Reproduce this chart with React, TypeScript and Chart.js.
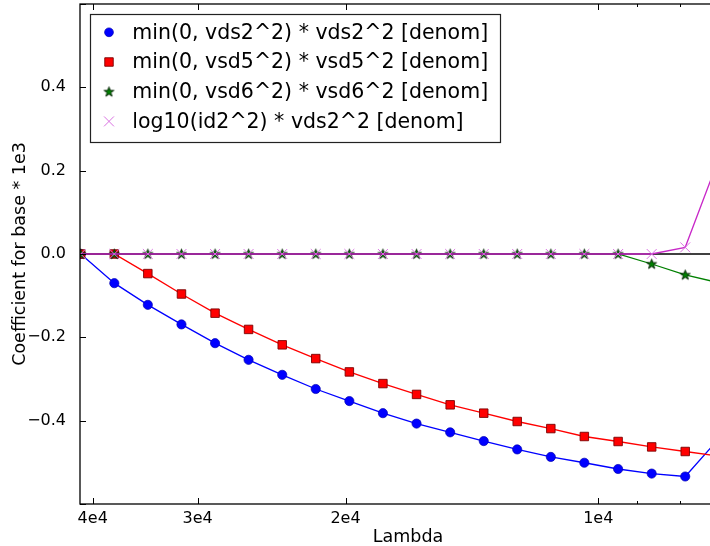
import React, { useEffect, useRef } from 'react';
import { Chart, registerables } from 'chart.js';
import { drawPoint } from 'chart.js/helpers';

Chart.register(...registerables);

// Lambda (x) values, log spaced, decreasing left to right
const lambdaValues = [41340, 37700, 34390, 31360, 28600, 26090, 23790, 21700, 19790, 18050, 16460, 15010, 13690, 12490, 11390, 10390, 9471, 8638, 7879, 7185];
const vds2Values = [0, -0.070, -0.122, -0.169, -0.214, -0.254, -0.290, -0.324, -0.353, -0.382, -0.407, -0.428, -0.449, -0.469, -0.487, -0.501, -0.516, -0.527, -0.534, -0.443];
const vsd5Values = [0, 0, -0.047, -0.096, -0.142, -0.181, -0.218, -0.251, -0.283, -0.311, -0.337, -0.362, -0.382, -0.402, -0.419, -0.438, -0.450, -0.463, -0.474, -0.485];
const vsd6Values = [0, 0, 0, 0, 0, 0, 0, 0, 0, 0, 0, 0, 0, 0, 0, 0, 0, -0.024, -0.050, -0.069];
const logId2Values = [0, 0, 0, 0, 0, 0, 0, 0, 0, 0, 0, 0, 0, 0, 0, 0, 0, 0, 0.016, 0.229];

const seriesLabels = [
  'min(0, vds2^2) * vds2^2 [denom]',
  'min(0, vsd5^2) * vsd5^2 [denom]',
  'min(0, vsd6^2) * vsd6^2 [denom]',
  'log10(id2^2) * vds2^2 [denom]',
];

const xTickValues = [40000, 30000, 20000, 10000, 9000, 8000, 7000];
const xTickLabels = ['4e4', '3e4', '2e4', '1e4', '', '', ''];
const yTickValues = [-0.6, -0.4, -0.2, 0, 0.2, 0.4, 0.6];
const yTickLabels = ['', '\u22120.4', '\u22120.2', '0.0', '0.2', '0.4', ''];

const FONT = 'DejaVu Sans';

function makeStar(): HTMLCanvasElement {
  const c = document.createElement('canvas');
  c.width = 13;
  c.height = 13;
  const ctx = c.getContext('2d')!;
  const cx = 6.5, cy = 6.8, R = 5.2, r = 2.1;
  ctx.beginPath();
  for (let i = 0; i < 10; i++) {
    const rad = i % 2 === 0 ? R : r;
    const a = -Math.PI / 2 + (i * Math.PI) / 5;
    const px = cx + rad * Math.cos(a);
    const py = cy + rad * Math.sin(a);
    if (i === 0) ctx.moveTo(px, py); else ctx.lineTo(px, py);
  }
  ctx.closePath();
  ctx.fillStyle = '#008000';
  ctx.fill();
  ctx.lineWidth = 0.9;
  ctx.strokeStyle = '#062006';
  ctx.stroke();
  return c;
}

const zeroPad = (s: any) => {
  s.paddingTop = 0;
  s.paddingBottom = 0;
  s.paddingLeft = 0;
  s.paddingRight = 0;
};

export default function App() {
  const ref = useRef<HTMLCanvasElement>(null);

  useEffect(() => {
    if (!ref.current) return;
    const star = makeStar();
    const toPts = (arr: number[]) => lambdaValues.map((x, i) => ({ x, y: arr[i] }));

    const mplPlugin = {
      id: 'mplAxes',
      afterDatasetDraw(chart: any, args: any) {
        if (args.index !== 2) return;
        const { ctx, chartArea } = chart;
        const y0 = chart.scales.y.getPixelForValue(0);
        ctx.save();
        ctx.beginPath();
        ctx.rect(chartArea.left, chartArea.top, chartArea.right - chartArea.left, chartArea.bottom - chartArea.top);
        ctx.clip();
        ctx.strokeStyle = '#000';
        ctx.lineWidth = 1.6;
        ctx.beginPath();
        ctx.moveTo(chartArea.left, y0);
        ctx.lineTo(chartArea.right, y0);
        ctx.stroke();
        ctx.restore();
      },
      afterDraw(chart: any) {
        const { ctx, chartArea } = chart;
        const xs = chart.scales.x;
        const ys = chart.scales.y;
        ctx.save();
        // frame
        ctx.strokeStyle = '#000';
        ctx.lineWidth = 1.3;
        ctx.strokeRect(chartArea.left, chartArea.top, chartArea.right - chartArea.left, chartArea.bottom - chartArea.top);
        // x ticks (inward, top and bottom)
        ctx.lineWidth = 1;
        xTickValues.forEach((v, i) => {
          const px = Math.round(xs.getPixelForValue(v)) + 0.5;
          const len = xTickLabels[i] ? 6 : 3;
          ctx.beginPath();
          ctx.moveTo(px, chartArea.bottom);
          ctx.lineTo(px, chartArea.bottom - len);
          ctx.moveTo(px, chartArea.top);
          ctx.lineTo(px, chartArea.top + len);
          ctx.stroke();
        });
        // y ticks (inward)
        yTickValues.forEach((v) => {
          const py = Math.round(ys.getPixelForValue(v)) + 0.5;
          ctx.beginPath();
          ctx.moveTo(chartArea.left, py);
          ctx.lineTo(chartArea.left + 6, py);
          ctx.moveTo(chartArea.right, py);
          ctx.lineTo(chartArea.right - 6, py);
          ctx.stroke();
        });
        // legend
        const lx = 90.5, ly = 14.5, lw = 410, lh = 128;
        ctx.fillStyle = '#fff';
        ctx.fillRect(lx, ly, lw, lh);
        ctx.strokeStyle = '#222';
        ctx.lineWidth = 1.2;
        ctx.strokeRect(lx, ly, lw, lh);
        ctx.font = `20.5px "${FONT}"`;
        ctx.textBaseline = 'middle';
        ctx.textAlign = 'left';
        chart.data.datasets.forEach((ds: any, i: number) => {
          const rowY = 32.3 + i * 29.7;
          ctx.save();
          ctx.fillStyle = ds.pointBackgroundColor;
          ctx.strokeStyle = ds.pointBorderColor;
          ctx.lineWidth = ds.pointBorderWidth;
          drawPoint(ctx, { pointStyle: ds.pointStyle, radius: ds.legendRadius, rotation: 0, borderWidth: ds.pointBorderWidth }, 109, rowY);
          ctx.restore();
          ctx.fillStyle = '#000';
          ctx.fillText(ds.label, 132.3, rowY + 1);
        });
        ctx.restore();
      },
    };

    const chart = new Chart(ref.current, {
      type: 'line',
      data: {
        datasets: [
          {
            label: seriesLabels[0],
            data: toPts(vds2Values),
            borderColor: '#0000ff',
            borderWidth: 1.3,
            pointStyle: 'circle',
            pointRadius: 4.6,
            legendRadius: 4.4,
            pointBackgroundColor: '#0000ff',
            pointBorderColor: '#0000b0',
            pointBorderWidth: 0.7,
            order: 3,
            clip: 0,
          } as any,
          {
            label: seriesLabels[1],
            data: toPts(vsd5Values),
            borderColor: '#ff0000',
            borderWidth: 1.3,
            pointStyle: 'rect',
            pointRadius: 6,
            legendRadius: 6,
            pointBackgroundColor: '#ff0000',
            pointBorderColor: '#7a0000',
            pointBorderWidth: 0.9,
            order: 2,
            clip: 0,
          } as any,
          {
            label: seriesLabels[2],
            data: toPts(vsd6Values),
            borderColor: '#008000',
            borderWidth: 1.3,
            pointStyle: star,
            pointRadius: 5,
            legendRadius: 5,
            pointBackgroundColor: '#008000',
            pointBorderColor: '#062006',
            pointBorderWidth: 0.9,
            order: 1,
            clip: 0,
          } as any,
          {
            label: seriesLabels[3],
            data: toPts(logId2Values),
            borderColor: '#c828c8',
            borderWidth: 1.3,
            pointStyle: 'crossRot',
            pointRadius: 7,
            legendRadius: 7,
            pointBackgroundColor: '#da72e2',
            pointBorderColor: '#da72e2',
            pointBorderWidth: 1,
            order: 0,
            clip: 0,
          } as any,
        ],
      },
      options: {
        responsive: false,
        animation: false,
        layout: { autoPadding: false, padding: { top: 4, right: 4, left: 0, bottom: 0 } },
        elements: { line: { tension: 0 } },
        plugins: {
          legend: { display: false },
          tooltip: { enabled: false },
        },
        scales: {
          x: {
            type: 'logarithmic',
            reverse: true,
            min: 6855,
            max: 41420,
            grid: { display: false },
            border: { display: false },
            afterBuildTicks: (s: any) => {
              s.ticks = xTickValues.map((v) => ({ value: v }));
            },
            afterFit: (s: any) => {
              s.height = 42;
              zeroPad(s);
            },
            ticks: {
              autoSkip: false,
              maxRotation: 0,
              padding: -3,
              color: '#000',
              font: { family: FONT, size: 16 },
              callback: (_v: any, i: number) => xTickLabels[i],
            },
            title: {
              display: true,
              text: 'Lambda',
              color: '#000',
              font: { family: FONT, size: 17.5 },
              padding: { top: 0, bottom: -2 },
            },
          },
          y: {
            type: 'linear',
            min: -0.6,
            max: 0.6,
            grid: { display: false },
            border: { display: false },
            afterBuildTicks: (s: any) => {
              s.ticks = yTickValues.map((v) => ({ value: v }));
            },
            afterFit: (s: any) => {
              s.width = 80;
              zeroPad(s);
            },
            ticks: {
              padding: 6,
              color: '#000',
              font: { family: FONT, size: 16 },
              callback: (_v: any, i: number) => yTickLabels[i],
            },
            title: {
              display: true,
              text: 'Coefficient for base * 1e3',
              color: '#000',
              font: { family: FONT, size: 17.5 },
              padding: { top: 10, bottom: 0 },
            },
          },
        },
      } as any,
      plugins: [mplPlugin],
    });
    return () => chart.destroy();
  }, []);

  return (
    <div style={{ position: 'absolute', left: 0, top: 0, width: 710, height: 546, overflow: 'hidden', background: '#fff' }}>
      <canvas ref={ref} width={740} height={546} style={{ display: 'block' }} />
    </div>
  );
}
